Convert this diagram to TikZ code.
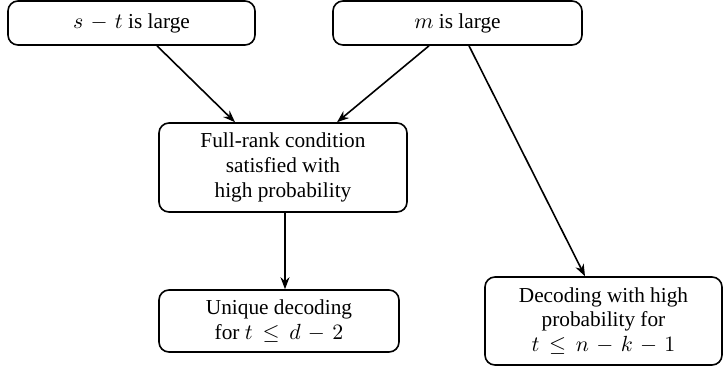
\documentclass[tikz,border=0pt]{standalone}
\usepackage[no-math]{fontspec}
\setmainfont{Liberation Serif}
\usetikzlibrary{arrows.meta}
\medmuskip=6mu
\thickmuskip=8mu

\tikzset{
    box/.style={draw, thick, rounded corners=5pt, align=center, inner sep=2pt,
        font=\fontsize{10.65}{12.4}\selectfont},
    arr/.style={thick, -{Stealth[length=6pt, width=4.5pt]}}
}

\begin{document}
\begin{tikzpicture}
    \useasboundingbox (0,0) rectangle (362.5pt,-185.5pt);

    % 箱を置く
    \node[box, minimum width=123.5pt, minimum height=22pt] (A) at (65.75pt, -11.5pt) {$s - t$ is large};
    \node[box, minimum width=124.5pt, minimum height=22pt] (B) at (228.75pt, -11.5pt) {$m$ is large};
    \node[box, minimum width=124pt, minimum height=44.5pt] (C) at (141.5pt, -83.75pt) {Full-rank condition\\satisfied with\\high probability};
    \node[box, minimum width=120pt, minimum height=31pt] (D) at (139.5pt, -160.5pt) {Unique decoding\\for $t \leq d - 2$};
    \node[box, minimum width=118.5pt, minimum height=44pt] (E) at (301.75pt, -160.5pt) {Decoding with high\\probability for\\$t \leq n - k - 1$};

    % 矢印
    \draw[arr] ([xshift=12.75pt]A.south) -- ([xshift=-24pt]C.north);
    \draw[arr] ([xshift=-14.25pt]B.south) -- ([xshift=27pt]C.north);
    \draw[arr] ([xshift=5.75pt]B.south) -- ([xshift=-9.25pt]E.north);
    \draw[arr] ([xshift=1pt]C.south) -- ([xshift=1pt]C.south |- D.north);

\end{tikzpicture}
\end{document}
